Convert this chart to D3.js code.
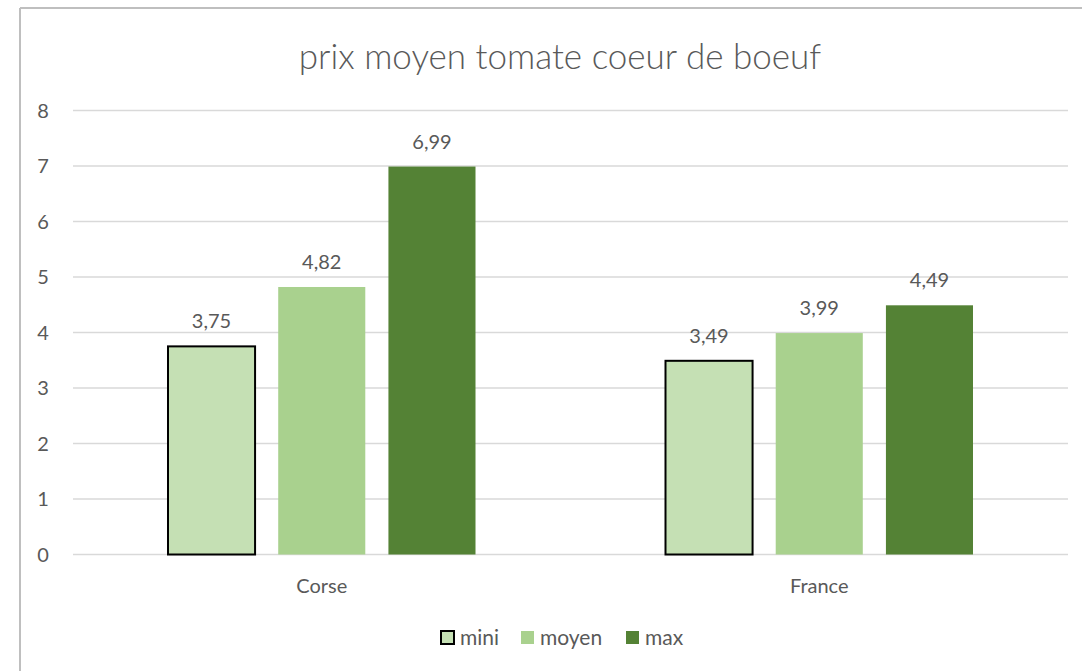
<!DOCTYPE html>
<html><head><meta charset="utf-8">
<script src="https://cdn.jsdelivr.net/npm/d3@7"></script>
<style>body{margin:0;background:#fff}svg{display:block}text{font-family:Lato,"Open Sans",sans-serif;fill:#595959}</style>
</head><body>
<script>
(function(){
const title = "prix moyen tomate coeur de boeuf";
const categories = ["Corse", "France"];
const seriesNames = ["mini", "moyen", "max"];
const mini = [3.75, 3.49];
const moyen = [4.82, 3.99];
const max = [6.99, 4.49];
const yTicks = [0, 1, 2, 3, 4, 5, 6, 7, 8];
const colors = ["#C5E0B4", "#A9D18E", "#548235"];

const W = 1082, H = 671;
const svg = d3.select("body").append("svg").attr("width", W).attr("height", H);
svg.append("line").attr("x1", 20).attr("x2", 20).attr("y1", 8).attr("y2", H).attr("stroke", "#BFBFBF").attr("stroke-width", 2);
svg.append("line").attr("x1", 20).attr("x2", W).attr("y1", 8).attr("y2", 8).attr("stroke", "#BFBFBF").attr("stroke-width", 2);

const pLeft = 73, pRight = 1068, pTop = 110.5, pBottom = 554.5;
const y = d3.scaleLinear().domain([0, 8]).range([pBottom, pTop]);
const x0 = d3.scaleBand().domain(categories).range([pLeft, pRight]).paddingInner(0).paddingOuter(0);
const x1 = d3.scaleBand().domain(seriesNames).range([95, x0.bandwidth() - 95]).paddingInner(0.21).paddingOuter(0);

const g = svg.append("g");
g.selectAll("line.grid").data(yTicks).join("line").attr("class", "grid")
  .attr("x1", pLeft).attr("x2", pRight).attr("y1", d => y(d)).attr("y2", d => y(d))
  .attr("stroke", "#D9D9D9").attr("stroke-width", 1.3);
g.selectAll("text.ytick").data(yTicks).join("text").attr("class", "ytick")
  .attr("x", 43).attr("y", d => y(d)).attr("dy", "0.35em").attr("text-anchor", "middle")
  .attr("font-size", 20).text(d => d);

const seriesData = [mini, moyen, max];
const rows = [];
categories.forEach((c, ci) => seriesNames.forEach((s, si) => rows.push({c, s, si, v: seriesData[si][ci]})));

g.selectAll("rect.bar").data(rows).join("rect").attr("class", "bar")
  .attr("x", d => x0(d.c) + x1(d.s)).attr("width", x1.bandwidth())
  .attr("y", d => y(d.v)).attr("height", d => y(0) - y(d.v))
  .attr("fill", d => colors[d.si])
  .attr("stroke", d => d.si === 0 ? "#000" : "none").attr("stroke-width", 2);

const fmt = v => v.toFixed(2).replace(".", ",");
g.selectAll("text.val").data(rows).join("text").attr("class", "val")
  .attr("x", d => x0(d.c) + x1(d.s) + x1.bandwidth() / 2).attr("y", d => y(d.v) - 18)
  .attr("text-anchor", "middle").attr("font-size", 20).text(d => fmt(d.v));

g.selectAll("text.cat").data(categories).join("text").attr("class", "cat")
  .attr("x", d => x0(d) + x0.bandwidth() / 2).attr("y", 586).attr("dy", "0.35em")
  .attr("text-anchor", "middle").attr("font-size", 20).text(d => d);

svg.append("text").attr("x", 560).attr("y", 57).attr("dy", "0.35em").attr("text-anchor", "middle")
  .attr("font-size", 35).attr("font-weight", 300).text(title);

const legendItems = [{n: "mini", x: 441}, {n: "moyen", x: 521}, {n: "max", x: 626}];
const lg = svg.append("g");
legendItems.forEach((it, i) => {
  lg.append("rect").attr("x", it.x).attr("y", 631).attr("width", 13).attr("height", 13)
    .attr("fill", colors[i]).attr("stroke", i === 0 ? "#000" : "none").attr("stroke-width", 2);
  lg.append("text").attr("x", it.x + 19).attr("y", 638).attr("dy", "0.35em").attr("font-size", 21).text(it.n);
});
})();
</script>
</body></html>
